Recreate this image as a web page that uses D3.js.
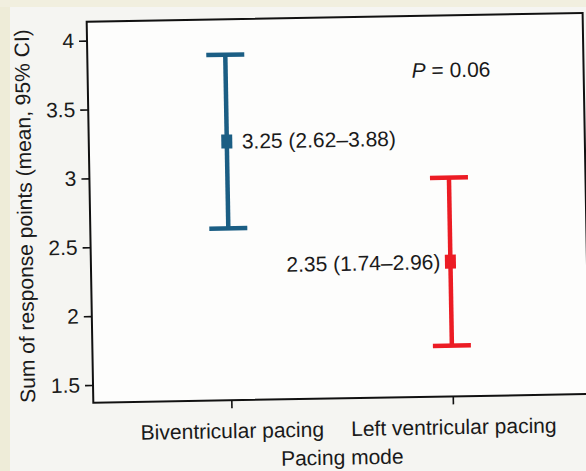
<!DOCTYPE html>
<html>
<head>
<meta charset="utf-8">
<script src="https://cdn.jsdelivr.net/npm/d3@7"></script>
<style>
  html, body { margin: 0; padding: 0; background: #f5f5f2; }
  svg { display: block; }
  text { font-family: "Liberation Sans", Arial, Helvetica, sans-serif; fill: #1a1a1a; }
</style>
</head>
<body>
<div id="chart"></div>
<script>
// Chart data
const categories = ["Biventricular pacing", "Left ventricular pacing"];
const means = [3.25, 2.35];
const lower = [2.62, 1.74];
const upper = [3.88, 2.96];
const labels = ["3.25 (2.62–3.88)", "2.35 (1.74–2.96)"];
const colors = ["#1b5e84", "#ec1c24"];
const yTicks = [1.5, 2, 2.5, 3, 3.5, 4];

const width = 586;
const height = 471;
const fontSize = 21;

// frame of the plot (before the slight photo tilt)
const frame = { left: 90, right: 586, top: 21.7, bottom: 402.7 };

const svg = d3
  .select("#chart")
  .append("svg")
  .attr("width", width)
  .attr("height", height);

// paper background, cream edge on the left and top
svg.append("rect")
  .attr("width", width)
  .attr("height", height)
  .attr("fill", "#f5f5f2");
svg.append("rect")
  .attr("width", 10)
  .attr("height", height)
  .attr("fill", "#eeecd8");
svg.append("rect")
  .attr("width", width)
  .attr("height", 7)
  .attr("fill", "#f1efdf");

// the whole figure is tilted by about one degree in the photo
const g = svg.append("g").attr("transform", "rotate(-1, 90, 212)");

const y = d3.scaleLinear().domain([1.5, 4]).range([385, 40.6]);
const x = d3.scalePoint().domain(categories).range([228, 449.5]);

// plot box
g.append("rect")
  .attr("x", frame.left)
  .attr("y", frame.top)
  .attr("width", frame.right - frame.left)
  .attr("height", frame.bottom - frame.top)
  .attr("fill", "#fdfdfc")
  .attr("stroke", "#111")
  .attr("stroke-width", 2);

// y axis
const yAxis = g.append("g")
  .attr("transform", `translate(${frame.left},0)`)
  .call(d3.axisLeft(y).tickValues(yTicks).tickFormat(d3.format("")).tickSize(8).tickPadding(5));
yAxis.select(".domain").remove();
yAxis.selectAll(".tick line").attr("stroke", "#111").attr("stroke-width", 1.6);
yAxis.selectAll(".tick text")
  .attr("font-size", fontSize)
  .attr("font-family", null)
  .attr("fill", "#1a1a1a");

// x axis
const xAxis = g.append("g")
  .attr("transform", `translate(0,${frame.bottom})`)
  .call(d3.axisBottom(x).tickSize(8).tickPadding(15));
xAxis.select(".domain").remove();
xAxis.selectAll(".tick line").attr("stroke", "#111").attr("stroke-width", 1.6);
xAxis.selectAll(".tick text")
  .attr("font-size", fontSize)
  .attr("font-family", null)
  .attr("fill", "#1a1a1a");

// axis titles
g.append("text")
  .attr("x", 338)
  .attr("y", 469)
  .attr("text-anchor", "middle")
  .attr("font-size", fontSize)
  .text("Pacing mode");

g.append("text")
  .attr("transform", "translate(32,215) rotate(-90)")
  .attr("text-anchor", "middle")
  .attr("font-size", fontSize)
  .text("Sum of response points (mean, 95% CI)");

// error bars
const bars = g.selectAll("g.bar")
  .data(categories)
  .enter()
  .append("g")
  .attr("class", "bar");

bars.append("line")
  .attr("x1", (d) => x(d))
  .attr("x2", (d) => x(d))
  .attr("y1", (d, i) => y(upper[i]))
  .attr("y2", (d, i) => y(lower[i]))
  .attr("stroke", (d, i) => colors[i])
  .attr("stroke-width", 4.5);

bars.append("line")
  .attr("x1", (d) => x(d) - 19)
  .attr("x2", (d) => x(d) + 19)
  .attr("y1", (d, i) => y(upper[i]))
  .attr("y2", (d, i) => y(upper[i]))
  .attr("stroke", (d, i) => colors[i])
  .attr("stroke-width", 4.5);

bars.append("line")
  .attr("x1", (d) => x(d) - 19)
  .attr("x2", (d) => x(d) + 19)
  .attr("y1", (d, i) => y(lower[i]))
  .attr("y2", (d, i) => y(lower[i]))
  .attr("stroke", (d, i) => colors[i])
  .attr("stroke-width", 4.5);

bars.append("rect")
  .attr("x", (d) => x(d) - 5.5)
  .attr("y", (d, i) => y(means[i]) - 7)
  .attr("width", 11)
  .attr("height", 14)
  .attr("fill", (d, i) => colors[i]);

// value labels: first to the right of its bar, second to the left
bars.append("text")
  .attr("x", (d, i) => (i === 0 ? x(d) + 15 : x(d) - 10))
  .attr("y", (d, i) => y(means[i]))
  .attr("dy", "0.35em")
  .attr("text-anchor", (d, i) => (i === 0 ? "start" : "end"))
  .attr("font-size", fontSize)
  .text((d, i) => labels[i]);

// P value
const pText = g.append("text")
  .attr("x", 414)
  .attr("y", 83.5)
  .attr("font-size", fontSize);
pText.append("tspan").attr("font-style", "italic").text("P");
pText.append("tspan").text(" = 0.06");
</script>
</body>
</html>
